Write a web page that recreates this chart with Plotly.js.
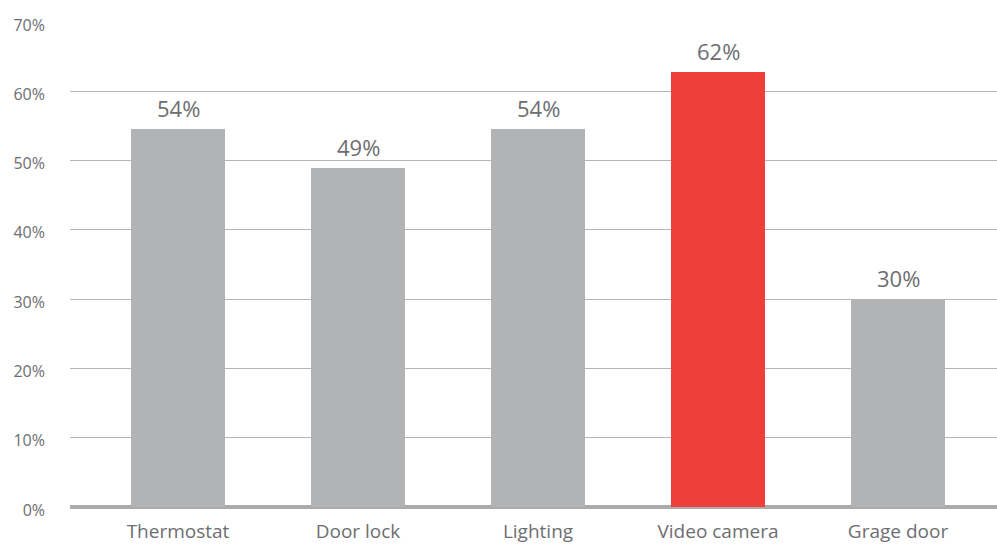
<!DOCTYPE html>
<html><head><meta charset="utf-8">
<script src="https://cdn.plot.ly/plotly-3.0.1.min.js"></script>
<style>html,body{margin:0;padding:0;background:#fff}#chart{width:997px;height:544px}</style>
</head><body><div id="chart"></div>
<script>
var categories = ["Thermostat", "Door lock", "Lighting", "Video camera", "Grage door"];
var values = [54.5, 48.9, 54.5, 62.8, 30.0];
var labels = ["54%", "49%", "54%", "62%", "30%"];
var colors = ["#b2b3b5", "#b2b3b5", "#b2b3b5", "#ee3f3a", "#b2b3b5"];
var yTicks = [0, 10, 20, 30, 40, 50, 60, 70];
var yTickText = ["0%", "10%", "20%", "30%", "40%", "50%", "60%", "70%"];

var FONT = "'Open Sans', sans-serif";
var idx = categories.map(function(_, i){ return i; });
var trace = {
  type: "bar", x: idx, y: values, width: 0.52,
  marker: {color: colors},
  hoverinfo: "none"
};
var annotations = idx.map(function(i){
  return {x: i, y: values[i], text: labels[i], showarrow: false, yanchor: "bottom", yshift: 4,
          font: {family: FONT, size: 22, color: "#6d6e71"}};
});
var layout = {
  width: 997, height: 544,
  margin: {l: 70, r: 0, t: 22, b: 37},
  paper_bgcolor: "#fff", plot_bgcolor: "#fff",
  showlegend: false,
  bargap: 0,
  xaxis: {range: [-0.6, 4.55], tickvals: idx, ticktext: categories, showgrid: false, zeroline: false,
          showline: false, ticks: "", ticklabelstandoff: 11,
          tickfont: {family: FONT, size: 19, color: "#6d6e71"}},
  yaxis: {range: [0, 70], tickvals: yTicks, ticktext: yTickText, showgrid: true, gridcolor: "#b5b5b5",
          gridwidth: 1, zeroline: true, zerolinecolor: "#ababab", zerolinewidth: 4, showline: false,
          ticks: "", ticklabelstandoff: 24, ticklabelshift: 3,
          tickfont: {family: FONT, size: 16, color: "#6d6e71"}},
  annotations: annotations
};
Plotly.newPlot("chart", [trace], layout, {displayModeBar: false, staticPlot: true});
</script></body></html>
